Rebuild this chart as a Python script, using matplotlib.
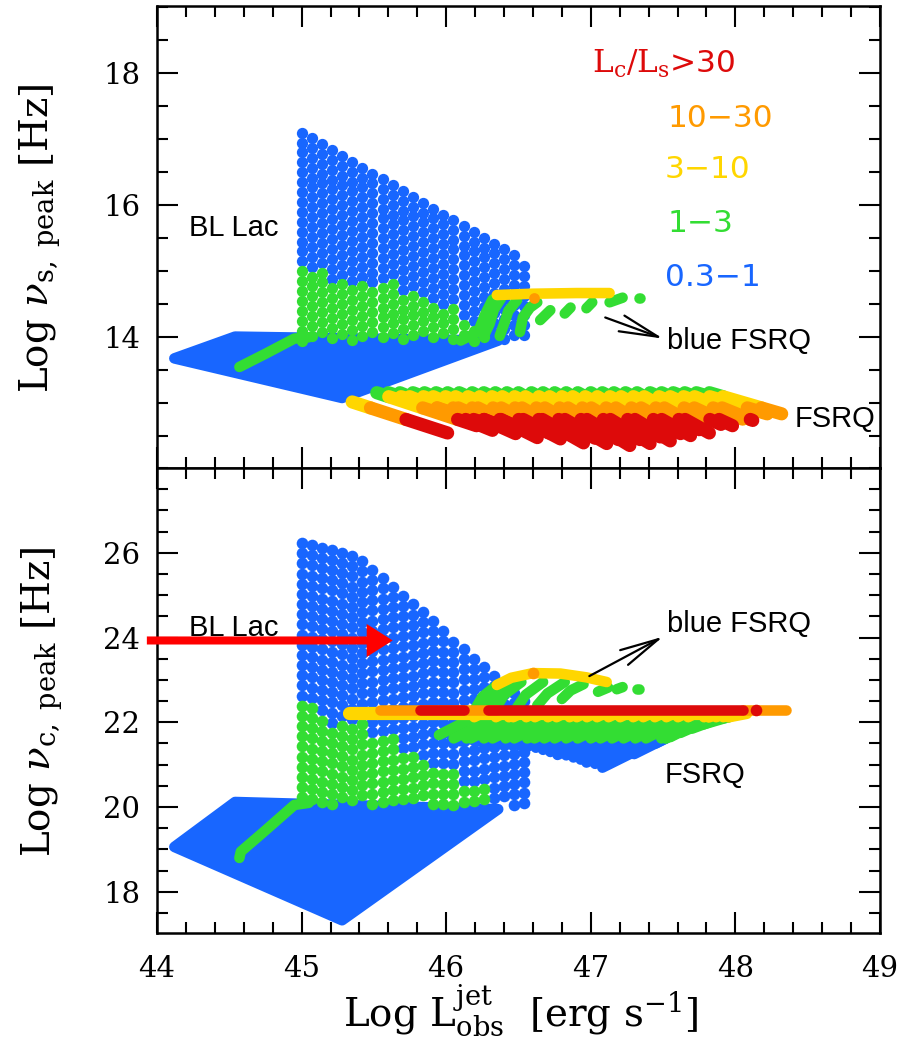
import numpy as np
import matplotlib
matplotlib.use('Agg')
import matplotlib.pyplot as plt
from matplotlib.ticker import MultipleLocator, FixedLocator

plt.rcParams['font.family'] = 'DejaVu Serif'
plt.rcParams['mathtext.fontset'] = 'dejavuserif'

BLUE = '#1866ff'
GREEN = '#33dd33'
YELLOW = '#ffd600'
ORANGE = '#ff9a00'
RED = '#dd0a0a'

# ---------------- data ----------------
# columns of the BL Lac "sail" grid (same Log L in both panels)
col_x = [45.00, 45.07, 45.14, 45.21, 45.28, 45.35, 45.42, 45.49, 45.56, 45.63, 45.70, 45.77,
         45.84, 45.91, 45.98, 46.05, 46.12, 46.19, 46.26, 46.33, 46.40, 46.47, 46.54]
# top panel: top of each column and upper limit of the green (1-3) part
s_col_top = [17.10, 17.02, 16.93, 16.84, 16.75, 16.66, 16.57, 16.48, 16.40, 16.31, 16.22, 16.13,
             16.04, 15.95, 15.86, 15.78, 15.69, 15.60, 15.51, 15.42, 15.33, 15.24, 15.08]
s_col_green = [15.02, 15.02, 15.02, 14.89, 14.89, 14.82, 14.82, 14.82, 14.82, 14.82, 14.67, 14.67,
               14.67, 14.46, 14.46, 14.46, 14.24, 14.13, 14.13, 13.80, 13.80, 13.80, 13.80]
s_col_bottom = 13.95
# bottom panel
c_col_top = [26.23, 26.18, 26.12, 26.07, 26.00, 25.92, 25.80, 25.60, 25.40, 25.20, 24.99, 24.78,
             24.60, 24.40, 24.15, 23.90, 23.73, 23.50, 23.31, 23.10, 22.90, 22.70, 22.50]
c_col_green = [22.45, 22.45, 22.25, 21.98, 21.98, 21.98, 21.98, 21.74, 21.74, 21.74, 21.19, 21.19,
               21.19, 20.88, 20.88, 20.88, 20.48, 20.48, 20.48, 19.80, 19.80, 19.80, 19.80]
c_col_bottom = 20.05

# dense low-luminosity BL Lac region (corners)
s_quad_x = [44.12, 44.54, 46.36, 45.28]
s_quad_y = [13.68, 14.01, 13.95, 13.08]
c_quad_x = [44.12, 44.54, 46.36, 45.28]
c_quad_y = [19.06, 20.12, 19.95, 17.33]

# green track joining the two BL Lac regions
s_gline_x = [44.57, 44.75, 44.95, 45.05]
s_gline_y = [13.55, 13.75, 13.98, 14.00]
c_gline_x = [44.57, 44.58, 44.75, 44.95, 45.05]
c_gline_y = [18.80, 18.95, 19.45, 20.05, 20.10]

# FSRQ tracks, top panel (start -> end); first one is the isolated low-power track
fs_x0 = [45.35, 45.52, 45.60, 45.68, 45.77, 45.85, 45.93, 46.01, 46.09, 46.18, 46.26, 46.34,
         46.42, 46.50, 46.59, 46.67, 46.75, 46.83, 46.91, 47.00, 47.08, 47.16, 47.24, 47.32,
         47.41, 47.49, 47.57, 47.65, 47.73, 47.82]
fs_y0 = [13.02] + [13.16] * 29
fs_x1 = [46.01, 46.21, 46.27, 46.32, 46.40, 46.48, 46.55, 46.63, 46.71, 46.79, 46.87, 46.95,
         47.03, 47.11, 47.19, 47.27, 47.34, 47.41, 47.48, 47.55, 47.62, 47.69, 47.75, 47.82,
         47.90, 47.98, 48.05, 48.12, 48.22, 48.32]
fs_y1 = [12.55, 12.66, 12.70, 12.59, 12.64, 12.54, 12.59, 12.48, 12.55, 12.46, 12.51, 12.40,
         12.47, 12.39, 12.45, 12.36, 12.45, 12.39, 12.49, 12.43, 12.54, 12.51, 12.60, 12.55,
         12.68, 12.66, 12.76, 12.74, 12.84, 12.84]
fs_levels = [12.755, 12.93, 13.10]          # red | orange | yellow | green

# FSRQ tracks, bottom panel (start -> end)
fc_x0 = [45.95, 46.04, 46.10, 46.16, 46.22, 46.28, 46.34, 46.40, 46.46, 46.51, 46.56, 46.62,
         46.67, 46.72, 46.77, 46.83, 46.88, 46.93, 46.97, 47.03, 47.08, 47.30, 47.45, 47.55,
         47.62, 47.70, 47.78, 47.85]
fc_y0 = [21.70, 21.60, 21.55, 21.60, 21.55, 21.55, 21.50, 21.50, 21.45, 21.45, 21.42, 21.40,
         21.35, 21.30, 21.23, 21.22, 21.17, 21.12, 21.05, 21.02, 20.93, 21.25, 21.50, 21.65,
         21.75, 21.85, 21.95, 22.05]
fc_x1 = [46.24, 46.39, 46.48, 46.51, 46.60, 46.66, 46.75, 46.81, 46.90, 46.95, 47.02, 47.09,
         47.17, 47.25, 47.34, 47.41, 47.49, 47.57, 47.65, 47.72, 47.83, 47.86, 47.86, 47.87,
         47.92, 47.98, 48.03, 48.08]
fc_y1 = [22.20] * 28
fc_levels = [21.62, 22.12]                  # blue | green | yellow

# horizontal FSRQ ridge in the bottom panel
ridge_y = 22.29
ridge_yellow = [(45.33, 48.00)]
ridge_orange = [(45.54, 46.35), (48.05, 48.35)]
ridge_red = [(45.82, 46.12), (46.29, 48.05)]
ridge_red_dot = 48.14

# "blue FSRQ" tracks, top panel
s_bf_green = [([46.10, 46.22, 46.27, 46.32, 46.40], [13.95, 14.08, 14.35, 14.57, 14.64]),
              ([46.26, 46.30, 46.33, 46.38], [14.02, 14.20, 14.42, 14.59]),
              ([46.37, 46.40, 46.43, 46.49], [14.02, 14.20, 14.40, 14.56]),
              ([46.51, 46.53, 46.58, 46.63], [14.08, 14.30, 14.45, 14.53]),
              ([46.65, 46.72], [14.26, 14.41]),
              ([46.82, 46.86], [14.36, 14.45]),
              ([46.97, 47.01], [14.44, 14.53]),
              ([47.13, 47.22], [14.53, 14.60]),
              ([47.33, 47.34], [14.60, 14.60])]
s_bf_yellow = ([46.35, 46.60, 46.90, 47.13], [14.64, 14.66, 14.67, 14.67])
s_bf_orange = (46.61, 14.60)

# "blue FSRQ" tracks, bottom panel
c_bf_green = [([46.18, 46.25, 46.36], [22.20, 22.60, 22.90]),
              ([46.26, 46.32, 46.44], [22.20, 22.62, 22.93]),
              ([46.33, 46.40, 46.52], [22.25, 22.65, 22.95]),
              ([46.48, 46.55, 46.67], [22.30, 22.65, 22.95]),
              ([46.63, 46.70, 46.82], [22.40, 22.68, 22.95]),
              ([46.80, 46.86, 46.95], [22.55, 22.75, 22.90]),
              ([47.05, 47.12], [22.72, 22.82]),
              ([47.18, 47.22], [22.78, 22.83]),
              ([47.32, 47.33], [22.79, 22.79])]
c_bf_yellow = ([46.35, 46.45, 46.60, 46.79, 46.97, 47.11], [22.88, 23.05, 23.16, 23.15, 23.06, 22.95])
c_bf_orange = (46.60, 23.17)

LEG_TEXT = [r'$\mathrm{L_c/L_s}$>30', '10\u221230', '3\u221210', '1\u22123', '0.3\u22121']
LEG_COL = [RED, ORANGE, YELLOW, GREEN, BLUE]
LEG_X = [47.01, 47.53, 47.51, 47.53, 47.51]
LEG_Y = [18.00, 17.19, 16.41, 15.59, 14.77]

LW = 7.6      # track width in points (dots of ~10 px)
LWF = 9.5     # FSRQ tracks


def split(x0, y0, x1, y1, levels, colors):
    """cut a straight track into pieces according to y levels"""
    edges = [-np.inf] + list(levels) + [np.inf]
    out = []
    for lo, hi, c in zip(edges[:-1], edges[1:], colors):
        if y1 == y0:
            ts = (0, 1) if lo <= y0 < hi else None
        else:
            ta, tb = (lo - y0) / (y1 - y0), (hi - y0) / (y1 - y0)
            a, b = max(min(ta, tb), 0), min(max(ta, tb), 1)
            ts = (a, b) if b > a else None
        if ts:
            out.append((c, [x0 + ts[0] * (x1 - x0), x0 + ts[1] * (x1 - x0)],
                        [y0 + ts[0] * (y1 - y0), y0 + ts[1] * (y1 - y0)]))
    return out


def track(ax, x, y, c, lw=LW, z=3):
    ax.plot(x, y, color=c, lw=lw, solid_capstyle='round', solid_joinstyle='round', zorder=z)


def sail(ax, tops, greens, bottom, step, s):
    bx, by, gx, gy = [], [], [], []
    for x, top, g in zip(col_x, tops, greens):
        for y in np.arange(top, bottom - 1e-6, -step):
            if y <= g:
                gx.append(x); gy.append(y)
            else:
                bx.append(x); by.append(y)
    ax.scatter(bx, by, s=s, color=BLUE, lw=0, zorder=2)
    ax.scatter(gx, gy, s=s, color=GREEN, lw=0, zorder=2.5)


fig = plt.figure(figsize=(9.18, 10.45), dpi=100)
ax1 = fig.add_axes([0.171, 0.5522, 0.7876, 0.4421])
ax2 = fig.add_axes([0.171, 0.1072, 0.7876, 0.4450])

# ---------------- top panel ----------------
ax1.fill(s_quad_x, s_quad_y, facecolor=BLUE, edgecolor=BLUE, lw=LW, joinstyle='round', zorder=1)
sail(ax1, s_col_top, s_col_green, s_col_bottom, 0.15, 66)
track(ax1, s_gline_x, s_gline_y, GREEN)

pieces = []
for a, b, c, d in zip(fs_x0, fs_y0, fs_x1, fs_y1):
    pieces += split(a, b, c, d, fs_levels, [RED, ORANGE, YELLOW, GREEN])
for col in [GREEN, YELLOW, ORANGE, RED]:
    for c, x, y in pieces:
        if c == col:
            track(ax1, x, y, c, lw=LWF)

for x, y in s_bf_green:
    track(ax1, x, y, GREEN, z=4)
track(ax1, s_bf_yellow[0], s_bf_yellow[1], YELLOW, z=4.5)
ax1.scatter([s_bf_orange[0]], [s_bf_orange[1]], s=60, color=ORANGE, lw=0, zorder=5)

# ---------------- bottom panel ----------------
ax2.fill(c_quad_x, c_quad_y, facecolor=BLUE, edgecolor=BLUE, lw=LW, joinstyle='round', zorder=1)
sail(ax2, c_col_top, c_col_green, c_col_bottom, 0.24, 70)
track(ax2, c_gline_x, c_gline_y, GREEN)

pieces = []
for a, b, c, d in zip(fc_x0, fc_y0, fc_x1, fc_y1):
    pieces += split(a, b, c, d, fc_levels, [BLUE, GREEN, YELLOW])
for col in [BLUE, GREEN, YELLOW]:
    for c, x, y in pieces:
        if c == col:
            track(ax2, x, y, c, lw=LW)

for x, y in c_bf_green:
    track(ax2, x, y, GREEN, z=4)
track(ax2, c_bf_yellow[0], c_bf_yellow[1], YELLOW, z=4.5)
ax2.scatter([c_bf_orange[0]], [c_bf_orange[1]], s=70, color=ORANGE, lw=0, zorder=5)

for a, b in ridge_yellow:
    track(ax2, [a, b], [ridge_y - 0.07, ridge_y - 0.07], YELLOW, lw=9.5, z=5)
for a, b in ridge_orange:
    track(ax2, [a, b], [ridge_y, ridge_y], ORANGE, z=5.5)
for a, b in ridge_red:
    track(ax2, [a, b], [ridge_y, ridge_y], RED, z=6)
ax2.scatter([ridge_red_dot], [ridge_y], s=70, color=RED, lw=0, zorder=6)

# ---------------- annotations ----------------
sans = dict(family='Liberation Sans', fontsize=21, color='black')
ax1.text(44.22, 15.65, 'BL Lac', va='center', ha='left', **sans)
ax1.text(47.53, 13.95, 'blue FSRQ', va='center', ha='left', **sans)
ax1.text(48.41, 12.76, 'FSRQ', va='center', ha='left', **sans)
ax2.text(44.22, 24.23, 'BL Lac', va='center', ha='left', **sans)
ax2.text(47.53, 24.32, 'blue FSRQ', va='center', ha='left', **sans)
ax2.text(47.51, 20.76, 'FSRQ', va='center', ha='left', **sans)

black_arrow = dict(arrowstyle='->,head_length=28,head_width=6', mutation_scale=1,
                   color='black', lw=1.6, shrinkA=0, shrinkB=0)
ax1.annotate('', xy=(47.50, 13.98), xytext=(47.10, 14.30), arrowprops=black_arrow, zorder=8)
ax2.annotate('', xy=(47.50, 24.02), xytext=(46.99, 23.09), arrowprops=black_arrow, zorder=8)

ax2.annotate('', xy=(45.63, 23.93), xytext=(43.93, 23.93), annotation_clip=False,
             arrowprops=dict(arrowstyle='simple,head_length=18.7,head_width=23.8,tail_width=5.8',
                             mutation_scale=1, color='#ff0000', lw=0, shrinkA=0, shrinkB=0),
             zorder=9)

for t, c, x, y in zip(LEG_TEXT, LEG_COL, LEG_X, LEG_Y):
    ax1.text(x, y, t, color=c, fontsize=22.5, family='DejaVu Sans', ha='left', va='baseline')

# ---------------- axes ----------------
for ax in (ax1, ax2):
    ax.set_xlim(44, 49)
    ax.xaxis.set_major_locator(MultipleLocator(1))
    ax.xaxis.set_minor_locator(MultipleLocator(0.2))
    ax.yaxis.set_minor_locator(MultipleLocator(0.5))
    ax.tick_params(which='both', direction='in', top=True, right=True, width=1.5)
    ax.tick_params(which='major', length=15, labelsize=21)
    ax.tick_params(which='minor', length=8)
    ax.tick_params(axis='y', pad=12)
    ax.tick_params(axis='x', pad=16)
    for sp in ax.spines.values():
        sp.set_linewidth(1.8)

ax1.set_ylim(12.02, 19.02)
ax1.yaxis.set_major_locator(FixedLocator([14, 16, 18]))
ax1.tick_params(labelbottom=False)
ax2.set_ylim(17.03, 28.0)
ax2.yaxis.set_major_locator(FixedLocator([18, 20, 22, 24, 26]))

fig.text(40 / 918, 1 - 238 / 1045, r'Log $\nu_{\rm s,\ peak}$ [Hz]', rotation=90,
         ha='center', va='center', fontsize=28)
fig.text(42 / 918, 1 - 702 / 1045, r'Log $\nu_{\rm c,\ peak}$ [Hz]', rotation=90,
         ha='center', va='center', fontsize=28)
fig.text(521 / 918, 1 - 1010 / 1045, r'Log $\rm L^{jet}_{obs}$  [erg s$^{-1}$]',
         ha='center', va='center', fontsize=28)

fig.savefig('out.png', dpi=100)
